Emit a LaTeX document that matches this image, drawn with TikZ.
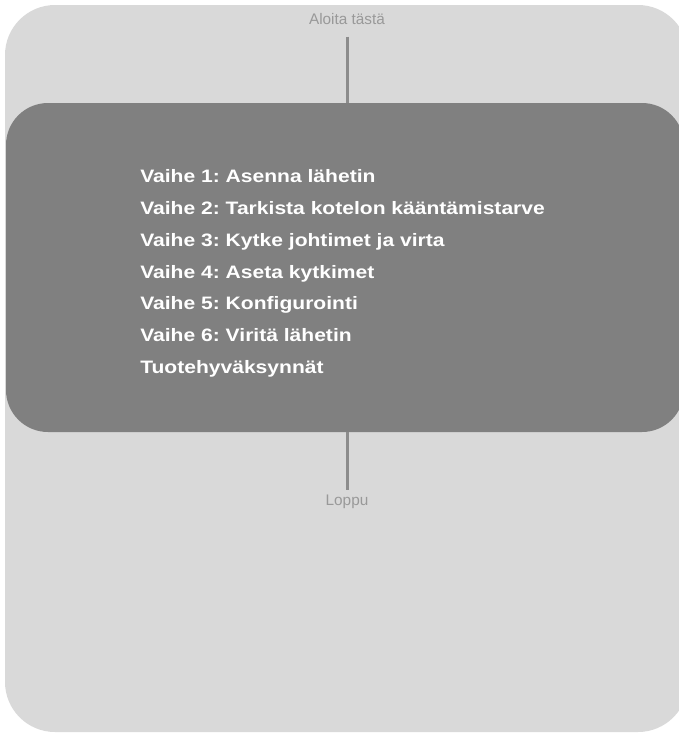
\documentclass[tikz,border=0pt]{standalone}
\usepackage{fontspec}
\setmainfont{Liberation Sans}
\newfontfamily\stepfont[FakeStretch=1.17]{Liberation Sans}
\usetikzlibrary{positioning}
\definecolor{panelgray}{HTML}{D9D9D9}
\definecolor{boxgray}{HTML}{808080}
\definecolor{wiregray}{HTML}{8C8C8C}
\definecolor{labelgray}{HTML}{999999}
\tikzset{
  endlabel/.style={text=labelgray, font=\fontsize{11.5}{13}\selectfont, inner sep=0.75pt},
  wire/.style={draw=wiregray, line width=2.25pt},
}
\begin{document}
\begin{tikzpicture}[x=0.75pt,y=0.75pt,yscale=-1,xscale=1]
        \useasboundingbox (0,0) rectangle (679,733);
        \clip (0,0) rectangle (679,733);
        % light panel
        \fill [panelgray, rounded corners=37.5pt] (5,5) rectangle (688,732);
        % dark box with the steps
        \node (steps) [fill=boxgray, rounded corners=31.5pt, inner sep=0pt, minimum width=508.5pt, minimum height=246.75pt] at (345,267.5) {};
        \node (list) [anchor=west, align=left, text=white, inner sep=0pt, font=\stepfont\bfseries\frenchspacing\fontsize{13.5}{23.85}\selectfont] at (140,273.5) {Vaihe 1: Asenna lähetin\\
Vaihe 2: Tarkista kotelon kääntämistarve\\
Vaihe 3: Kytke johtimet ja virta\\
Vaihe 4: Aseta kytkimet\\
Vaihe 5: Konfigurointi\\
Vaihe 6: Viritä lähetin\\
Tuotehyväksynnät};
        % start and end
        \node (start) [endlabel] at (347,19) {Aloita tästä};
        \node (end) [endlabel] at (347,502) {Loppu};
        \draw [wire, shorten <=8pt] (start.south) -- (steps.north -| start.south);
        \draw [wire, shorten >=3pt] (steps.south -| end.north) -- (end.north);
\end{tikzpicture}
\end{document}
